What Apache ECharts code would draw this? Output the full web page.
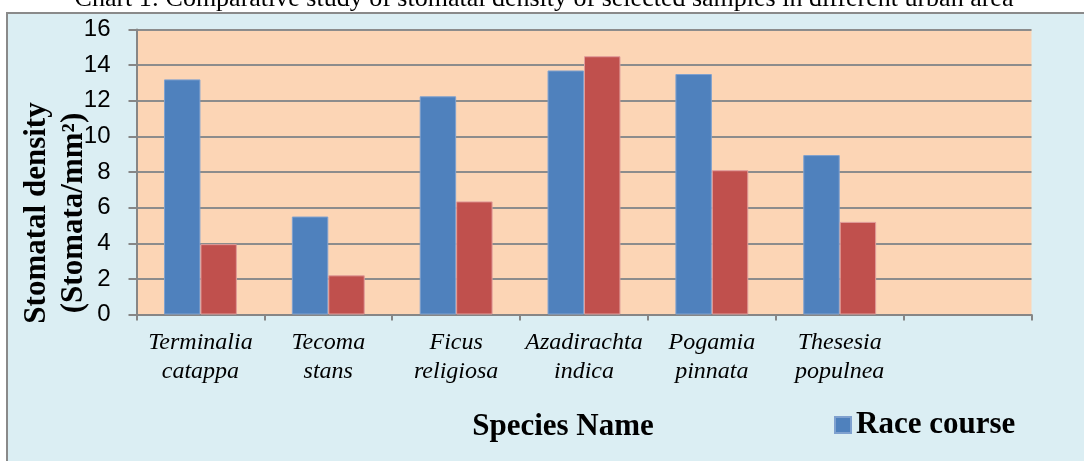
<!DOCTYPE html>
<html><head><meta charset="utf-8">
<script src="https://cdn.jsdelivr.net/npm/echarts@6/dist/echarts.min.js"></script>
<style>html,body{margin:0;padding:0;background:#fff;}#c{width:1084px;height:461px;}</style>
</head><body><div id="c"></div>
<script>
// ---- data ----
const chartTitle = 'Chart 1: Comparative study of stomatal density of selected samples in different urban area';
const xAxisTitle = 'Species Name';
const yAxisTitle = 'Stomatal density\n(Stomata/mm\u00B2)';
const categories = ['Terminalia\ncatappa', 'Tecoma\nstans', 'Ficus\nreligiosa', 'Azadirachta\nindica', 'Pogamia\npinnata', 'Thesesia\npopulnea', ''];
const seriesNames = ['Race course', 'Series 2'];
const raceCourse = [13.2, 5.5, 12.25, 13.7, 13.5, 8.95, null];
const secondSite = [3.95, 2.2, 6.35, 14.5, 8.1, 5.2, null];
const yMin = 0, yMax = 16, yStep = 2;

const serif = '"Liberation Serif","Times New Roman",serif';
const chart = echarts.init(document.getElementById('c'), null, {renderer: 'canvas'});
chart.setOption({
  backgroundColor: '#ffffff',
  animation: false,
  graphic: [
    {type: 'rect', z: -100, silent: true, shape: {x: 7, y: 13, width: 1200, height: 600},
     style: {fill: '#DBEEF3', stroke: '#8a8a8a', lineWidth: 2}},
    {type: 'text', x: 544, y: -0.5, silent: true,
     style: {text: chartTitle, font: '26px ' + serif, fill: '#000', align: 'center', verticalAlign: 'middle', textAlign: 'center', textVerticalAlign: 'middle'}},
    {type: 'text', x: 563, y: 427, silent: true,
     style: {text: xAxisTitle, font: 'bold 31px ' + serif, fill: '#000', align: 'center', verticalAlign: 'middle', textAlign: 'center', textVerticalAlign: 'middle'}},
    {type: 'text', x: 55, y: 213, rotation: Math.PI / 2, silent: true,
     style: {text: yAxisTitle, font: 'bold 31px ' + serif, lineHeight: 37, fill: '#000', align: 'center', verticalAlign: 'middle', textAlign: 'center', textVerticalAlign: 'middle'}}
  ],
  legend: {
    data: [seriesNames[0]], left: 829, top: 404, orient: 'vertical',
    icon: 'rect', itemWidth: 16, itemHeight: 16,
    textStyle: {fontFamily: serif, fontWeight: 'bold', fontSize: 31, color: '#000', lineHeight: 32}
  },
  grid: {left: 136.5, right: 52.5, top: 29.5, bottom: 146.5, show: true, backgroundColor: '#FCD5B5', borderWidth: 0, containLabel: false},
  xAxis: {
    type: 'category', data: categories,
    axisLine: {show: true, lineStyle: {color: '#868686', width: 2}},
    axisTick: {show: true, length: 6, lineStyle: {color: '#868686', width: 2}},
    axisLabel: {interval: 0, margin: 14, fontFamily: serif, fontStyle: 'italic', fontSize: 24, lineHeight: 29, color: '#000'},
    splitLine: {show: false}
  },
  yAxis: {
    type: 'value', min: yMin, max: yMax, interval: yStep,
    axisLine: {show: true, lineStyle: {color: '#868686', width: 2}},
    axisTick: {show: true, length: 8, lineStyle: {color: '#868686', width: 2}},
    axisLabel: {margin: 26, fontFamily: '"Liberation Sans Narrow","Arial Narrow","Liberation Sans",sans-serif', fontSize: 24, color: '#000'},
    splitLine: {show: true, lineStyle: {color: '#8c8c8c', width: 2}}
  },
  series: [
    {name: seriesNames[0], type: 'bar', data: raceCourse, barGap: '0%', barCategoryGap: '43%',
     itemStyle: {color: '#4F81BD', borderColor: '#7FA1CF', borderWidth: 1}},
    {name: seriesNames[1], type: 'bar', data: secondSite, barGap: '0%', barCategoryGap: '43%',
     itemStyle: {color: '#C0504D', borderColor: '#E09C9A', borderWidth: 1}}
  ]
});
</script></body></html>
